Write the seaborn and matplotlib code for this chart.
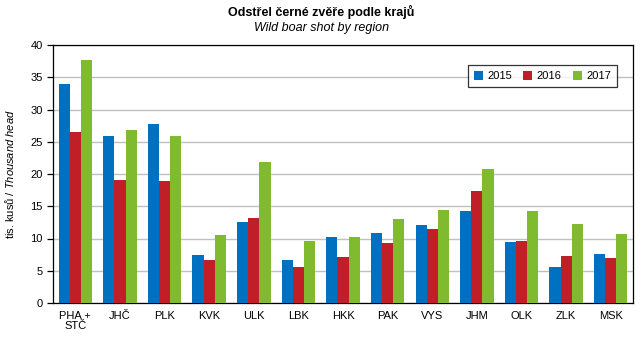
import matplotlib
matplotlib.use("Agg")
import matplotlib.pyplot as plt
import seaborn as sns
import pandas as pd
import numpy as np

regions = ["PHA +\nSTČ", "JHČ", "PLK", "KVK", "ULK", "LBK", "HKK", "PAK", "VYS", "JHM", "OLK", "ZLK", "MSK"]
years = ["2015", "2016", "2017"]
v2015 = [34.0, 25.9, 27.8, 7.5, 12.6, 6.7, 10.2, 10.8, 12.1, 14.2, 9.4, 5.6, 7.6]
v2016 = [26.5, 19.1, 18.9, 6.7, 13.2, 5.6, 7.1, 9.3, 11.4, 17.4, 9.6, 7.3, 7.0]
v2017 = [37.7, 26.8, 25.9, 10.5, 21.9, 9.6, 10.2, 13.0, 14.4, 20.8, 14.2, 12.2, 10.7]
colors = ["#0070C0", "#C01F28", "#80BA2F"]

rows = []
for y, vals in zip(years, [v2015, v2016, v2017]):
    for r, v in zip(regions, vals):
        rows.append({"region": r, "year": y, "value": v})
df = pd.DataFrame(rows)

sns.set_style("white")
plt.rcParams["font.family"] = ["Liberation Sans", "DejaVu Sans"]
plt.rcParams["mathtext.fontset"] = "custom"
plt.rcParams["mathtext.rm"] = "Liberation Sans"
plt.rcParams["mathtext.it"] = "Liberation Sans:italic"
plt.rcParams["text.color"] = "black"
plt.rcParams["axes.labelcolor"] = "black"
plt.rcParams["xtick.color"] = "black"
plt.rcParams["ytick.color"] = "black"

fig = plt.figure(figsize=(6.43, 3.41), dpi=100)
ax = fig.add_axes([53/643, 1-303/341, 580/643, 258/341])

sns.barplot(data=df, x="region", y="value", hue="year", palette=colors,
            width=0.75, saturation=1, linewidth=0, ax=ax, zorder=3)

ax.set_ylim(0, 40)
ax.set_xlim(-0.5, len(regions) - 0.5)
ax.set_yticks(np.arange(0, 41, 5))
ax.yaxis.grid(True, color="#C0C0C0", linewidth=1, zorder=0)
ax.set_axisbelow(True)
for s in ax.spines.values():
    s.set_color("black")
    s.set_linewidth(0.9)

ax.set_xticks(range(len(regions)))
ax.set_xticklabels(regions, fontsize=8, linespacing=1.0)
ax.set_xticks(np.arange(-0.5, len(regions), 1), minor=True)
ax.tick_params(axis="x", which="major", length=0, pad=6)
ax.tick_params(axis="x", which="minor", length=4, width=0.9, color="black", direction="out")
ax.tick_params(axis="y", length=4, width=0.9, color="black", direction="out", labelsize=8, left=True)
ax.set_xlabel("")
ax.set_ylabel("tis. kusů / $\\it{Thousand\\ head}$", fontsize=8, labelpad=10)

leg = ax.legend(loc="upper right", bbox_to_anchor=(617/643, 1-65/341), bbox_transform=fig.transFigure,
                ncol=3, fontsize=8, frameon=True, fancybox=False, edgecolor="black",
                handlelength=0.8, handleheight=0.8, handletextpad=0.4, columnspacing=1.0,
                borderpad=0.55, borderaxespad=0)
leg.get_frame().set_linewidth(0.9)

fig.text(0.5, 1-12/341, "Odstřel černé zvěře podle krajů", ha="center", va="center",
         fontsize=9, fontweight="bold")
fig.text(0.5, 1-28/341, "Wild boar shot by region", ha="center", va="center",
         fontsize=9, style="italic")

fig.savefig("out.png", dpi=100)
